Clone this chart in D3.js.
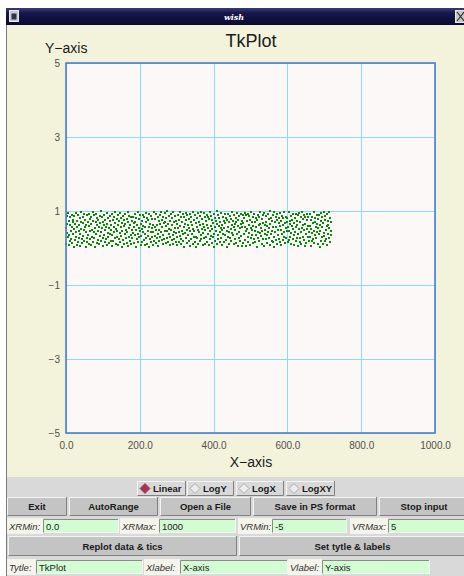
<!DOCTYPE html>
<html>
<head>
<meta charset="utf-8">
<script src="https://cdn.jsdelivr.net/npm/d3@7"></script>
<style>
  body { margin: 0; background: #ffffff; }
  svg { display: block; font-family: "Liberation Sans", Arial, sans-serif; }
</style>
</head>
<body>
<div id="chart"></div>
<script>
// ---- data ----
const chartTitle = "TkPlot";
const xLabel = "X-axis";
const yLabel = "Y-axis";
const xDomain = [0, 1000];
const yDomain = [-5, 5];
const xTicks = [0, 200, 400, 600, 800, 1000];
const yTicks = [-5, -3, -1, 1, 3, 5];

// one point per x = 0, 1, 2 ... (y, roughly 0..1)
const yValues = [
  .53,.12,.87,.41,.66,.29,.94,.08,.72,.35,.61,.18,.83,.47,.25,.90,.56,.14,.69,.38,.77,.03,.51,.86,.22,.64,.43,.95,.31,.09,.58,.74,.16,.89,.45,.27,.62,.81,.06,.39,.70,.52,.97,.24,.13,.67,.85,.33,.48,.91,.19,.57,.76,.02,.44,.63,.28,.88,.15,.71,
  .36,.92,.59,.11,.78,.46,.23,.84,.65,.07,.50,.31,.96,.17,.73,.42,.88,.26,.55,.04,.69,.93,.38,.61,.14,.80,.47,.21,.75,.57,.10,.86,.32,.68,.99,.44,.19,.83,.53,.27,.71,.06,.90,.35,.62,.15,.48,.77,.24,.58,.95,.09,.66,.41,.82,.29,.54,.13,.87,.37,
  .74,.20,.63,.49,.05,.91,.34,.76,.18,.56,.84,.43,.28,.67,.97,.12,.52,.79,.30,.45,.08,.89,.61,.25,.73,.40,.16,.94,.57,.33,.81,.02,.68,.47,.22,.86,.59,.11,.75,.38,.64,.93,.27,.50,.14,.79,.44,.70,.06,.98,.31,.55,.87,.19,.62,.36,.10,.83,.48,.72,
  .26,.85,.41,.67,.13,.58,.92,.35,.71,.04,.49,.80,.23,.63,.37,.96,.15,.54,.78,.29,.88,.46,.09,.65,.32,.74,.51,.17,.90,.43,.60,.21,.84,.07,.56,.39,.95,.28,.69,.12,.81,.47,.33,.76,.58,.03,.91,.24,.66,.42,.15,.87,.53,.30,.78,.09,.62,.44,.97,.20,
  .57,.33,.79,.14,.48,.93,.26,.61,.85,.39,.05,.72,.50,.18,.89,.64,.31,.97,.43,.22,.77,.56,.10,.83,.36,.68,.25,.94,.47,.71,.13,.59,.82,.28,.45,.99,.16,.65,.38,.87,.52,.07,.74,.30,.91,.49,.21,.80,.63,.35,.11,.96,.42,.69,.24,.86,.55,.17,.73,.40,
  .08,.64,.29,.90,.53,.17,.76,.44,.32,.98,.60,.25,.85,.11,.47,.70,.37,.92,.19,.58,.83,.02,.66,.41,.75,.27,.95,.50,.14,.88,.34,.62,.20,.79,.55,.06,.93,.46,.71,.23,.84,.38,.61,.10,.97,.52,.29,.77,.45,.15,.89,.31,.68,.03,.57,.82,.26,.94,.48,.12,
  .70,.43,.18,.86,.61,.35,.97,.24,.52,.79,.09,.66,.41,.94,.28,.57,.12,.83,.49,.73,.31,.90,.16,.62,.39,.85,.54,.07,.78,.45,.23,.96,.60,.33,.87,.14,.51,.76,.29,.68,.04,.92,.38,.81,.56,.20,.74,.47,.99,.11,.64,.36,.88,.25,.59,.80,.42,.15,.71,.53,
  .95,.27,.63,.50,.08,.84,.39,.72,.16,.55,.91,.34,.67,.21,.80,.46,.03,.75,.58,.30,.93,.12,.69,.44,.87,.26,.51,.79,.18,.62,.40,.98,.35,.73,.10,.56,.89,.23,.65,.48,.82,.14,.70,.37,.94,.59,.06,.77,.42,.28,.86,.53,.19,.64,.91,.33,.74,.05,.58,.89,
  .13,.68,.82,.37,.95,.22,.58,.45,.89,.06,.74,.51,.30,.92,.17,.63,.86,.40,.09,.77,.54,.28,.96,.35,.71,.48,.13,.84,.60,.25,.92,.47,.69,.15,.81,.36,.58,.03,.76,.44,.27,.90,.62,.19,.85,.41,.66,.97,.32,.53,.12,.78,.46,.88,.23,.67,.05,.94,.39,.61,
  .49,.87,.24,.71,.36,.60,.14,.93,.42,.78,.27,.55,.99,.08,.64,.38,.81,.20,.72,.47,.15,.88,.58,.31,.96,.03,.69,.43,.85,.22,.57,.76,.11,.91,.48,.34,.67,.82,.25,.59,.94,.16,.73,.50,.07,.86,.39,.63,.21,.80,.44,.97,.30,.68,.13,.55,.84,.26,.71,.45,
  .82,.15,.56,.98,.21,.47,.73,.30,.64,.11,.86,.40,.59,.76,.24,.93,.52,.07,.68,.35,.80,.44,.19,.91,.57,.28,.74,.62,.06,.89,.38,.51,.95,.17,.70,.26,.84,.43,.12,.97,.55,.31,.78,.63,.22,.90,.48,.05,.66,.83,.37,.14,.92,.51,.76,.29,.60,.85,.18,.42,
  .31,.59,.93,.06,.77,.52,.19,.85,.40,.68,.23,.96,.47,.13,.81,.34,.70,.57,.26,.90,.42,.65,.11,.79,.53,.37,.88,.02,.61,.45,.20,.94,.72,.29,.56,.83,.10,.67,.41,.98,.33,.75,.18,.86,.50,.24,.91,.60,.08,.74,.39,.63,.97,.27,.54,.16,.82,.46,.69,.35
];

const scaleModes = ["Linear", "LogY", "LogX", "LogXY"];
const selectedMode = "Linear";
const buttonRow1 = ["Exit", "AutoRange", "Open a File", "Save in PS format", "Stop input"];
const rangeFields = [["XRMin:", "0.0"], ["XRMax:", "1000"], ["VRMin:", "-5"], ["VRMax:", "5"]];
const buttonRow2 = ["Replot data & tics", "Set tytle & labels"];
const labelFields = [["Tytle:", "TkPlot"], ["Xlabel:", "X-axis"], ["Vlabel:", "Y-axis"]];

// ---- canvas ----
const width = 464, height = 576;
const plot = {left: 66, right: 435, top: 63, bottom: 433};

const svg = d3.select("#chart").append("svg")
    .attr("width", width)
    .attr("height", height);

// window frame
svg.append("rect").attr("x", 6).attr("y", 8).attr("width", width - 6).attr("height", height - 8)
    .attr("fill", "#f3f3dc");
svg.append("line").attr("x1", 6.5).attr("x2", 6.5).attr("y1", 8).attr("y2", height)
    .attr("stroke", "#7a7a7a").attr("stroke-width", 1);

// title bar
const grad = svg.append("defs").append("linearGradient").attr("id", "tbar")
    .attr("x1", 0).attr("x2", 0).attr("y1", 0).attr("y2", 1);
grad.append("stop").attr("offset", "0%").attr("stop-color", "#3a3a78");
grad.append("stop").attr("offset", "30%").attr("stop-color", "#16164c");
grad.append("stop").attr("offset", "100%").attr("stop-color", "#0a0a30");
svg.append("rect").attr("x", 6).attr("y", 8).attr("width", width - 6).attr("height", 17)
    .attr("fill", "url(#tbar)");
svg.append("rect").attr("x", 9.5).attr("y", 10.5).attr("width", 9).attr("height", 11)
    .attr("fill", "#c8c8c8").attr("stroke", "#e8e8e8");
svg.append("rect").attr("x", 11.5).attr("y", 13.5).attr("width", 5).attr("height", 6)
    .attr("fill", "#303050");
svg.append("rect").attr("x", 455.5).attr("y", 10.5).attr("width", 10).attr("height", 12)
    .attr("fill", "#c8c8c8").attr("stroke", "#e8e8e8");
svg.append("path").attr("d", "M457,12L464,21M464,12L457,21").attr("stroke", "#303030").attr("stroke-width", 1.2);
svg.append("text").attr("x", 234).attr("y", 20).attr("text-anchor", "middle")
    .attr("fill", "#ffffff").attr("font-size", 8).attr("font-weight", "bold").attr("font-style", "italic")
    .attr("font-family", "'DejaVu Serif', serif")
    .text("wish");

// scales
const xScale = d3.scaleLinear().domain(xDomain).range([plot.left, plot.right]);
const yScale = d3.scaleLinear().domain(yDomain).range([plot.bottom, plot.top]);

// plot background
svg.append("rect")
    .attr("x", plot.left).attr("y", plot.top)
    .attr("width", plot.right - plot.left).attr("height", plot.bottom - plot.top)
    .attr("fill", "#fcf8f7");

// gridlines
svg.append("g")
    .attr("transform", `translate(0,${plot.bottom})`)
    .call(d3.axisBottom(xScale).tickValues(xTicks).tickSize(-(plot.bottom - plot.top)).tickFormat(""))
    .call(g => g.select(".domain").remove())
    .call(g => g.selectAll("line").attr("stroke", "#8cd8ff").attr("stroke-width", 1)
        .attr("shape-rendering", "crispEdges"));
svg.append("g")
    .attr("transform", `translate(${plot.left},0)`)
    .call(d3.axisLeft(yScale).tickValues(yTicks).tickSize(-(plot.right - plot.left)).tickFormat(""))
    .call(g => g.select(".domain").remove())
    .call(g => g.selectAll("line").attr("stroke", "#8cd8ff").attr("stroke-width", 1)
        .attr("shape-rendering", "crispEdges"));

// points
svg.append("g").attr("shape-rendering", "crispEdges")
    .selectAll("rect")
    .data(yValues)
    .enter()
    .append("rect")
        .attr("x", (d, i) => Math.round(xScale(i)) - 1)
        .attr("y", d => Math.round(yScale(d)) - 1)
        .attr("width", 2)
        .attr("height", 2)
        .attr("fill", "#0a880a");

// plot border
svg.append("rect")
    .attr("x", plot.left).attr("y", plot.top)
    .attr("width", plot.right - plot.left).attr("height", plot.bottom - plot.top)
    .attr("fill", "none").attr("stroke", "#4a7fd0").attr("stroke-width", 1.6);

// tick labels
svg.append("g")
    .attr("transform", `translate(0,${plot.bottom + 16})`)
    .call(d3.axisBottom(xScale).tickValues(xTicks).tickSize(0).tickPadding(0).tickFormat(d3.format(".1f")))
    .call(g => g.select(".domain").remove())
    .call(g => g.selectAll("text").attr("font-size", 10).attr("fill", "#505050")
        .attr("font-family", "'Liberation Sans', Arial, sans-serif").attr("dy", 0));
svg.append("g")
    .attr("transform", `translate(${plot.left - 6},0)`)
    .call(d3.axisLeft(yScale).tickValues(yTicks).tickSize(0).tickPadding(0))
    .call(g => g.select(".domain").remove())
    .call(g => g.selectAll("text").attr("font-size", 10).attr("fill", "#505050")
        .attr("font-family", "'Liberation Sans', Arial, sans-serif"));

// titles
svg.append("text").attr("x", 251).attr("y", 47).attr("text-anchor", "middle")
    .attr("font-size", 18).attr("fill", "#1a1a1a").text(chartTitle);
svg.append("text").attr("x", 45).attr("y", 53)
    .attr("font-size", 14).attr("fill", "#1a1a1a").text(yLabel.replace("-", "\u2212"));
svg.append("text").attr("x", 251).attr("y", 467).attr("text-anchor", "middle")
    .attr("font-size", 14).attr("fill", "#1a1a1a").text(xLabel.replace("-", "\u2212"));

// ---- control panel ----
svg.append("rect").attr("x", 7).attr("y", 477).attr("width", width - 7).attr("height", height - 477)
    .attr("fill", "#d9d9d9");

function bevel(x, y, w, h, face, raised) {
    const g = svg.append("g");
    g.append("rect").attr("x", x).attr("y", y).attr("width", w).attr("height", h).attr("fill", face);
    const light = raised ? "#f4f4f4" : "#8a8a8a";
    const dark = raised ? "#808080" : "#f4f4f4";
    g.append("path").attr("d", `M${x + 0.5},${y + h}V${y + 0.5}H${x + w}`).attr("fill", "none").attr("stroke", light);
    g.append("path").attr("d", `M${x + 0.5},${y + h - 0.5}H${x + w - 0.5}V${y}`).attr("fill", "none").attr("stroke", dark);
    return g;
}

// radio row
const radioX = [137, 187, 236, 286];
const radioW = [49, 47, 48, 49];
scaleModes.forEach((m, i) => {
    const g = bevel(radioX[i], 481, radioW[i], 15, "#d9d9d9", true);
    const cx = radioX[i] + 8, cy = 488.5;
    g.append("path").attr("d", `M${cx - 5},${cy}L${cx},${cy - 5}L${cx + 5},${cy}L${cx},${cy + 5}Z`)
        .attr("fill", m === selectedMode ? "#b03050" : "#ececec")
        .attr("stroke", m === selectedMode ? "#804060" : "#9a9a9a").attr("stroke-width", 0.8);
    g.append("text").attr("x", radioX[i] + 16).attr("y", 492).attr("font-size", 9.5)
        .attr("font-weight", "bold").attr("fill", "#1a1a1a").text(m);
});

// button row 1
const b1X = [7, 69, 160, 253, 379];
const b1W = [60, 89, 91, 124, 90];
buttonRow1.forEach((b, i) => {
    const g = bevel(b1X[i], 497, b1W[i], 19, "#c4c4c4", true);
    g.append("text").attr("x", b1X[i] + b1W[i] / 2).attr("y", 510).attr("text-anchor", "middle")
        .attr("font-size", 9.5).attr("font-weight", "bold").attr("fill", "#1a1a1a").text(b);
});

// entry rows
function fields(list, y, labelX, entryX, entryW) {
    list.forEach((f, i) => {
        svg.append("rect").attr("x", labelX[i]).attr("y", y).attr("width", entryX[i] - labelX[i]).attr("height", 16)
            .attr("fill", "#f4f4ea");
        svg.append("text").attr("x", labelX[i] + 2).attr("y", y + 12).attr("font-size", 9.5)
            .attr("font-style", "italic").attr("fill", "#303030").text(f[0]);
        bevel(entryX[i], y + 1, entryW[i], 14, "#d2fcd2", false);
        svg.append("text").attr("x", entryX[i] + 3).attr("y", y + 12).attr("font-size", 9.5)
            .attr("fill", "#202020").text(f[1]);
    });
}
fields(rangeFields, 518, [7, 120, 238, 350], [43, 159, 272, 388], [76, 77, 75, 78]);

// button row 2
const b2X = [8, 239];
const b2W = [229, 227];
buttonRow2.forEach((b, i) => {
    const g = bevel(b2X[i], 536, b2W[i], 20, "#c4c4c4", true);
    g.append("text").attr("x", b2X[i] + b2W[i] / 2).attr("y", 550).attr("text-anchor", "middle")
        .attr("font-size", 9.5).attr("font-weight", "bold").attr("fill", "#1a1a1a").text(b);
});

fields(labelFields, 559, [7, 144, 288], [36, 180, 322], [107, 108, 108]);
</script>
</body>
</html>
